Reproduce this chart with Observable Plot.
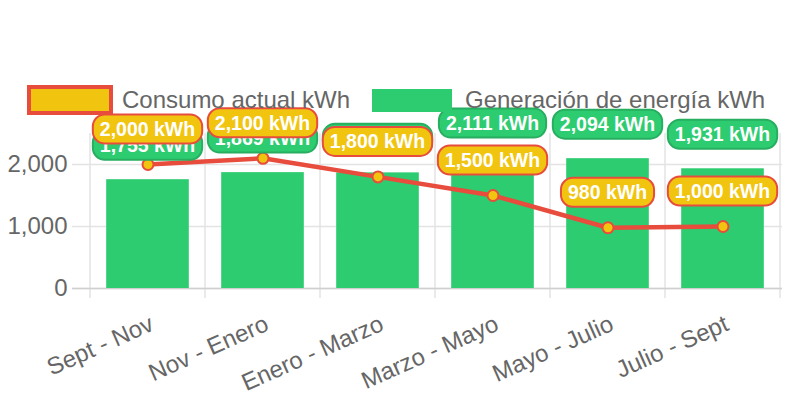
<!DOCTYPE html>
<html>
<head>
<meta charset="utf-8">
<script src="https://cdn.jsdelivr.net/npm/d3@7"></script>
<script src="https://cdn.jsdelivr.net/npm/@observablehq/plot@0.6"></script>
<style>
  html, body { margin: 0; padding: 0; background: #fff; }
  body { width: 792px; height: 396px; overflow: hidden; font-family: "Liberation Sans", Arial, Helvetica, sans-serif; }
  #legend { position: relative; height: 120px; }
  #legend .box1 { position: absolute; left: 27px; top: 85px; width: 78px; height: 22px; background: #f1c40f; border: 4px solid #e74c3c; }
  #legend .box2 { position: absolute; left: 372px; top: 89px; width: 80px; height: 23px; background: #2ecc71; }
  #legend .txt { position: absolute; top: 85px; line-height: 30px; font-size: 24px; color: #666; white-space: nowrap; }
</style>
</head>
<body>
<div id="legend">
  <div class="box1"></div><div class="txt" style="left:122px">Consumo actual kWh</div>
  <div class="box2"></div><div class="txt" style="left:465px">Generación de energía kWh</div>
</div>
<div id="chart"></div>
<script>
const categories = ["Sept - Nov", "Nov - Enero", "Enero - Marzo", "Marzo - Mayo", "Mayo - Julio", "Julio - Sept"];
const consumo = [2000, 2100, 1800, 1500, 980, 1000];
const generacion = [1755, 1869, 1865, 2111, 2094, 1931];
const yTicks = [0, 1000, 2000];

const GREEN = "#2ecc71", GREEN_DARK = "#27ae60", YELLOW = "#f1c40f", RED = "#e74c3c";
const FONT = '"Liberation Sans", Arial, Helvetica, sans-serif';

const genData = categories.map((c, i) => ({cat: c, value: generacion[i]}));
const conData = categories.map((c, i) => ({cat: c, value: consumo[i]}));
const fmt = d3.format(",");

const canvas = document.createElement("canvas");
const ctx = canvas.getContext("2d");

function bandOf(x, n, dims) {
  return (x.bandwidth ? x.bandwidth() : (dims.width - dims.marginLeft - dims.marginRight) / n);
}

// vertical grid lines at category boundaries
function vGrid(index, scales, values, dims) {
  const g = d3.create("svg:g");
  const x = scales.x, bw = bandOf(x, categories.length, dims);
  const bounds = categories.map(c => x(c)).concat([x(categories[categories.length - 1]) + bw]);
  for (const bx of bounds) {
    g.append("line").attr("x1", bx).attr("x2", bx)
      .attr("y1", dims.marginTop).attr("y2", dims.height - dims.marginBottom + 10)
      .attr("stroke", "#e3e3e3").attr("stroke-width", 1.5);
  }
  return g.node();
}

function labelMark(data, opts) {
  return (index, scales, values, dims) => {
    const g = d3.create("svg:g");
    const x = scales.x, y = scales.y, bw = bandOf(x, categories.length, dims);
    ctx.font = `bold 19.5px ${FONT}`;
    for (const d of data) {
      const txt = fmt(d.value) + " kWh";
      const w = ctx.measureText(txt).width + 14;
      const h = 29;
      const cx = x(d.cat) + bw / 2;
      const cy = y(d.value) - opts.offset;
      g.append("rect").attr("x", cx - w / 2).attr("y", cy - h / 2)
        .attr("width", w).attr("height", h).attr("rx", 12).attr("ry", 12)
        .attr("fill", opts.fill).attr("stroke", opts.stroke).attr("stroke-width", 2);
      g.append("text").attr("x", cx).attr("y", cy).attr("dy", "0.36em")
        .attr("text-anchor", "middle").attr("fill", "#fff")
        .attr("font-family", FONT).attr("font-weight", "bold").attr("font-size", 19.5)
        .text(txt);
    }
    return g.node();
  };
}

const bwPx = (792 - 88 - 10) / categories.length;

const chart = Plot.plot({
  width: 792,
  height: 276,
  marginTop: 13,
  marginBottom: 108,
  marginLeft: 88,
  marginRight: 10,
  style: {overflow: "visible", background: "transparent", color: "#666", fontFamily: FONT},
  x: {type: "band", domain: categories, padding: 0, axis: null},
  y: {domain: [0, 2500], axis: null},
  marks: [
    vGrid,
    Plot.ruleY(yTicks, {y: d => d, stroke: "#e3e3e3", strokeWidth: 1.5, insetLeft: -16}),
    Plot.ruleY([0], {stroke: "#cfcfcf", strokeWidth: 1.5, insetLeft: -16}),
    Plot.text(yTicks, {y: d => d, text: d => fmt(d), frameAnchor: "left", textAnchor: "end", dx: -21, fontSize: 24, fill: "#666"}),
    Plot.barY(genData, {x: "cat", y: "value", fill: GREEN, insetLeft: bwPx * 0.14, insetRight: bwPx * 0.14}),
    Plot.line(conData, {x: "cat", y: "value", stroke: RED, strokeWidth: 4.5}),
    Plot.dot(conData, {x: "cat", y: "value", r: 5.5, fill: YELLOW, stroke: RED, strokeWidth: 2}),
    labelMark(genData, {offset: 34, fill: GREEN, stroke: GREEN_DARK}),
    labelMark(conData, {offset: 35, fill: YELLOW, stroke: RED}),
    Plot.text(categories, {x: d => d, text: d => d, frameAnchor: "bottom", textAnchor: "end", lineAnchor: "middle", rotate: -24, dx: 4, dy: 34, fontSize: 24, fill: "#666"})
  ]
});
document.getElementById("chart").appendChild(chart);
</script>
</body>
</html>
